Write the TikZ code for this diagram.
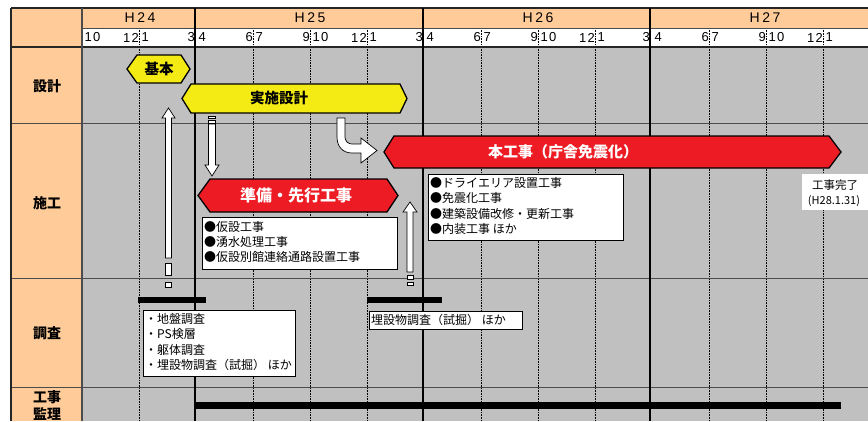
\documentclass[tikz,border=0pt]{standalone}
\usepackage{fontspec}
\setmainfont{Noto Sans CJK JP}
\newfontfamily\latinf[LetterSpace=10]{Liberation Sans}
\newfontfamily\yearf[LetterSpace=18]{Liberation Sans}
\definecolor{peach}{RGB}{255,204,153}
\definecolor{bodygray}{RGB}{192,192,192}
\definecolor{hexyellow}{RGB}{245,235,20}
\definecolor{hexred}{RGB}{237,28,36}
\tikzset{
 hexY/.style={fill=hexyellow, draw=black, line width=1.3pt, line join=miter},
 hexR/.style={fill=hexred, draw=black, line width=1.3pt, line join=miter},
 listbox/.style={fill=white, draw=black, line width=0.6pt},
 listtxt/.style={anchor=west, inner sep=0pt, font=\fontsize{12}{14}\selectfont},
 whitearrow/.style={fill=white, draw=black, line width=0.7pt, line join=miter},
 rowlbl/.style={font=\bfseries\fontsize{14}{17}\selectfont, align=center, inner sep=0pt},
 monthlbl/.style={font=\latinf\fontsize{13}{13}\selectfont, inner sep=0pt},
 yearlbl/.style={font=\yearf\fontsize{14}{14}\selectfont, inner sep=0pt},
 quarterline/.style={densely dotted, line width=0.6pt},
 gridline/.style={draw=black!70, line width=0.8pt},
 yearline/.style={line width=1.6pt},
 hexlbl/.style={font=\bfseries\fontsize{14.5}{14.5}\selectfont, inner sep=0pt},
 redlbl/.style={font=\bfseries\fontsize{16}{16}\selectfont, text=white, inner sep=0pt},
 donetxt/.style={inner sep=0pt, font=\fontsize{11.5}{12}\selectfont}
}
\begin{document}
\begin{tikzpicture}[x=1pt,y=-1pt]
\useasboundingbox (0,0) rectangle (868,421);
\clip (0,0) rectangle (868,421);
% backgrounds
\fill[white] (0,0) rectangle (868,421);
\fill[peach] (11,8) rectangle (868,28);
\fill[peach] (11,8) rectangle (82,421);
\fill[white] (82,28) rectangle (868,47);
\fill[bodygray] (82,47) rectangle (868,421);
% quarter lines
\foreach \x in {139,253,310,367,481,538,595,709,766,823}
  \draw[quarterline] (\x,28) -- (\x,421);
% grid lines
\foreach \y in {123,278,387}
  \draw[gridline] (11,\y) -- (868,\y);
\draw[gridline] (82,28) -- (868,28);
\draw[line width=1.4pt, black!85] (11,8) -- (868,8);
\draw[line width=1.4pt, black!85] (11,47) -- (868,47);
\draw[line width=1.4pt, black!85] (11,8) -- (11,421);
\draw[line width=1.2pt, black!70] (82,8) -- (82,421);
\foreach \x in {195,423,650}
  \draw[yearline] (\x,8) -- (\x,421);
% year labels
\node[yearlbl] (y24) at (140,18) {H24};
\node[yearlbl] (y25) at (310,18) {H25};
\node[yearlbl] (y26) at (538,18) {H26};
\node[yearlbl] (y27) at (765,18) {H27};
% month labels
\foreach \s/\e/\a/\b [count=\i] in {82/139/10/12,139/195/1/3,196/253/4/6,253/310/7/9,310/367/10/12,367/423/1/3,424/481/4/6,481/538/7/9,538/595/10/12,595/650/1/3,652/709/4/6,709/766/7/9,766/823/10/12}{
  \node[monthlbl, anchor=west] (ma\i) at (\s+2.5,37.5) {\a};
  \node[monthlbl, anchor=east] (mb\i) at (\e,37.5) {\b};
}
\node[monthlbl, anchor=west] (ma14) at (825.5,37.5) {1};
% row labels
\node[rowlbl] (r1) at (47,86) {設計};
\node[rowlbl] (r2) at (47,203) {施工};
\node[rowlbl] (r3) at (47,333) {調査};
\node[rowlbl, anchor=north] (r4) at (47,390) {工事\\監理};
% hexagons
\draw[hexY] (127,69) -- (137,55) -- (181,55) -- (190,69) -- (181,83) -- (137,83) -- cycle;
\node[hexlbl] (kihon) at (159,69) {基本};
\draw[hexY] (182,98.5) -- (191,84) -- (400,84) -- (407,98.5) -- (400,113) -- (191,113) -- cycle;
\node[hexlbl] (jisshi) at (279,98.5) {実施設計};
\draw[hexR] (198,195.5) -- (210,179) -- (387,179) -- (398,195.5) -- (387,212) -- (210,212) -- cycle;
\node[redlbl] (junbi) at (296,195.5) {準備・先行工事};
\draw[hexR] (384,152) -- (394,136) -- (829,136) -- (841,152) -- (829,168) -- (394,168) -- cycle;
\node[redlbl, font=\bfseries\fontsize{15}{15}\selectfont] (hon) at (563,151.5) {本工事（庁舎免震化）};
% arrows
\draw[whitearrow] (168.5,108) -- (175,118) -- (171.5,118) -- (171.5,258) -- (165.5,258) -- (165.5,118) -- (162,118) -- cycle;
\draw[whitearrow] (165.5,263) rectangle (171.5,275);
\draw[whitearrow] (165.5,282) rectangle (171.5,287);
\draw[whitearrow] (208.5,124) -- (215.5,124) -- (215.5,165) -- (219,165) -- (212,176) -- (205,165) -- (208.5,165) -- cycle;
\draw[whitearrow] (208.5,116.5) rectangle (215.5,118.5);
\draw[whitearrow] (208.5,120.5) rectangle (215.5,123);
\draw[whitearrow] (410,202) -- (417,212) -- (413,212) -- (413,272) -- (407,272) -- (407,212) -- (403,212) -- cycle;
\draw[whitearrow] (407,275) rectangle (413,279);
\draw[whitearrow] (407,282.5) rectangle (413,285.5);
\draw[whitearrow] (337,118) -- (337,137) .. controls (337,146.4) and (342.6,153) .. (352,153) -- (361,153) -- (361,163) -- (377,150.5) -- (361,138) -- (361,144) -- (352,144) .. controls (348,144) and (345,141) .. (345,137) -- (345,118) -- cycle;
% bars
\fill (138,297) rectangle (206,303);
\fill (367,297) rectangle (442,303);
\fill (195,402) rectangle (841,409);
% list boxes
\draw[listbox] (202,217) rectangle (397,269);
\node[listtxt] (p1) at (204,227) {●仮設工事};
\node[listtxt] (p2) at (204,242) {●湧水処理工事};
\node[listtxt] (p3) at (204,257) {●仮設別館連絡通路設置工事};
\draw[listbox] (428,174) rectangle (623,240);
\node[listtxt] (h1) at (430,183) {●ドライエリア設置工事};
\node[listtxt] (h2) at (430,198) {●免震化工事};
\node[listtxt] (h3) at (430,213.5) {●建築設備改修・更新工事};
\node[listtxt] (h4) at (430,229) {●内装工事\ ほか};
\draw[listbox] (143,310) rectangle (295,376);
\node[listtxt] (c1) at (145,319) {・地盤調査};
\node[listtxt] (c2) at (145,334) {・PS検層};
\node[listtxt] (c3) at (145,349.5) {・躯体調査};
\node[listtxt] (c4) at (145,365) {・埋設物調査（試掘）\ ほか};
\draw[listbox] (369,311) rectangle (522,329);
\node[listtxt] (c5) at (371,320) {埋設物調査（試掘）\ ほか};
% completion
\fill[white] (802,174) rectangle (870,210);
\node[donetxt] (done1) at (835,185) {工事完了};
\node[donetxt, font=\fontsize{11}{12}\selectfont] (done2) at (834,201) {(H28.1.31)};
\end{tikzpicture}
\end{document}
